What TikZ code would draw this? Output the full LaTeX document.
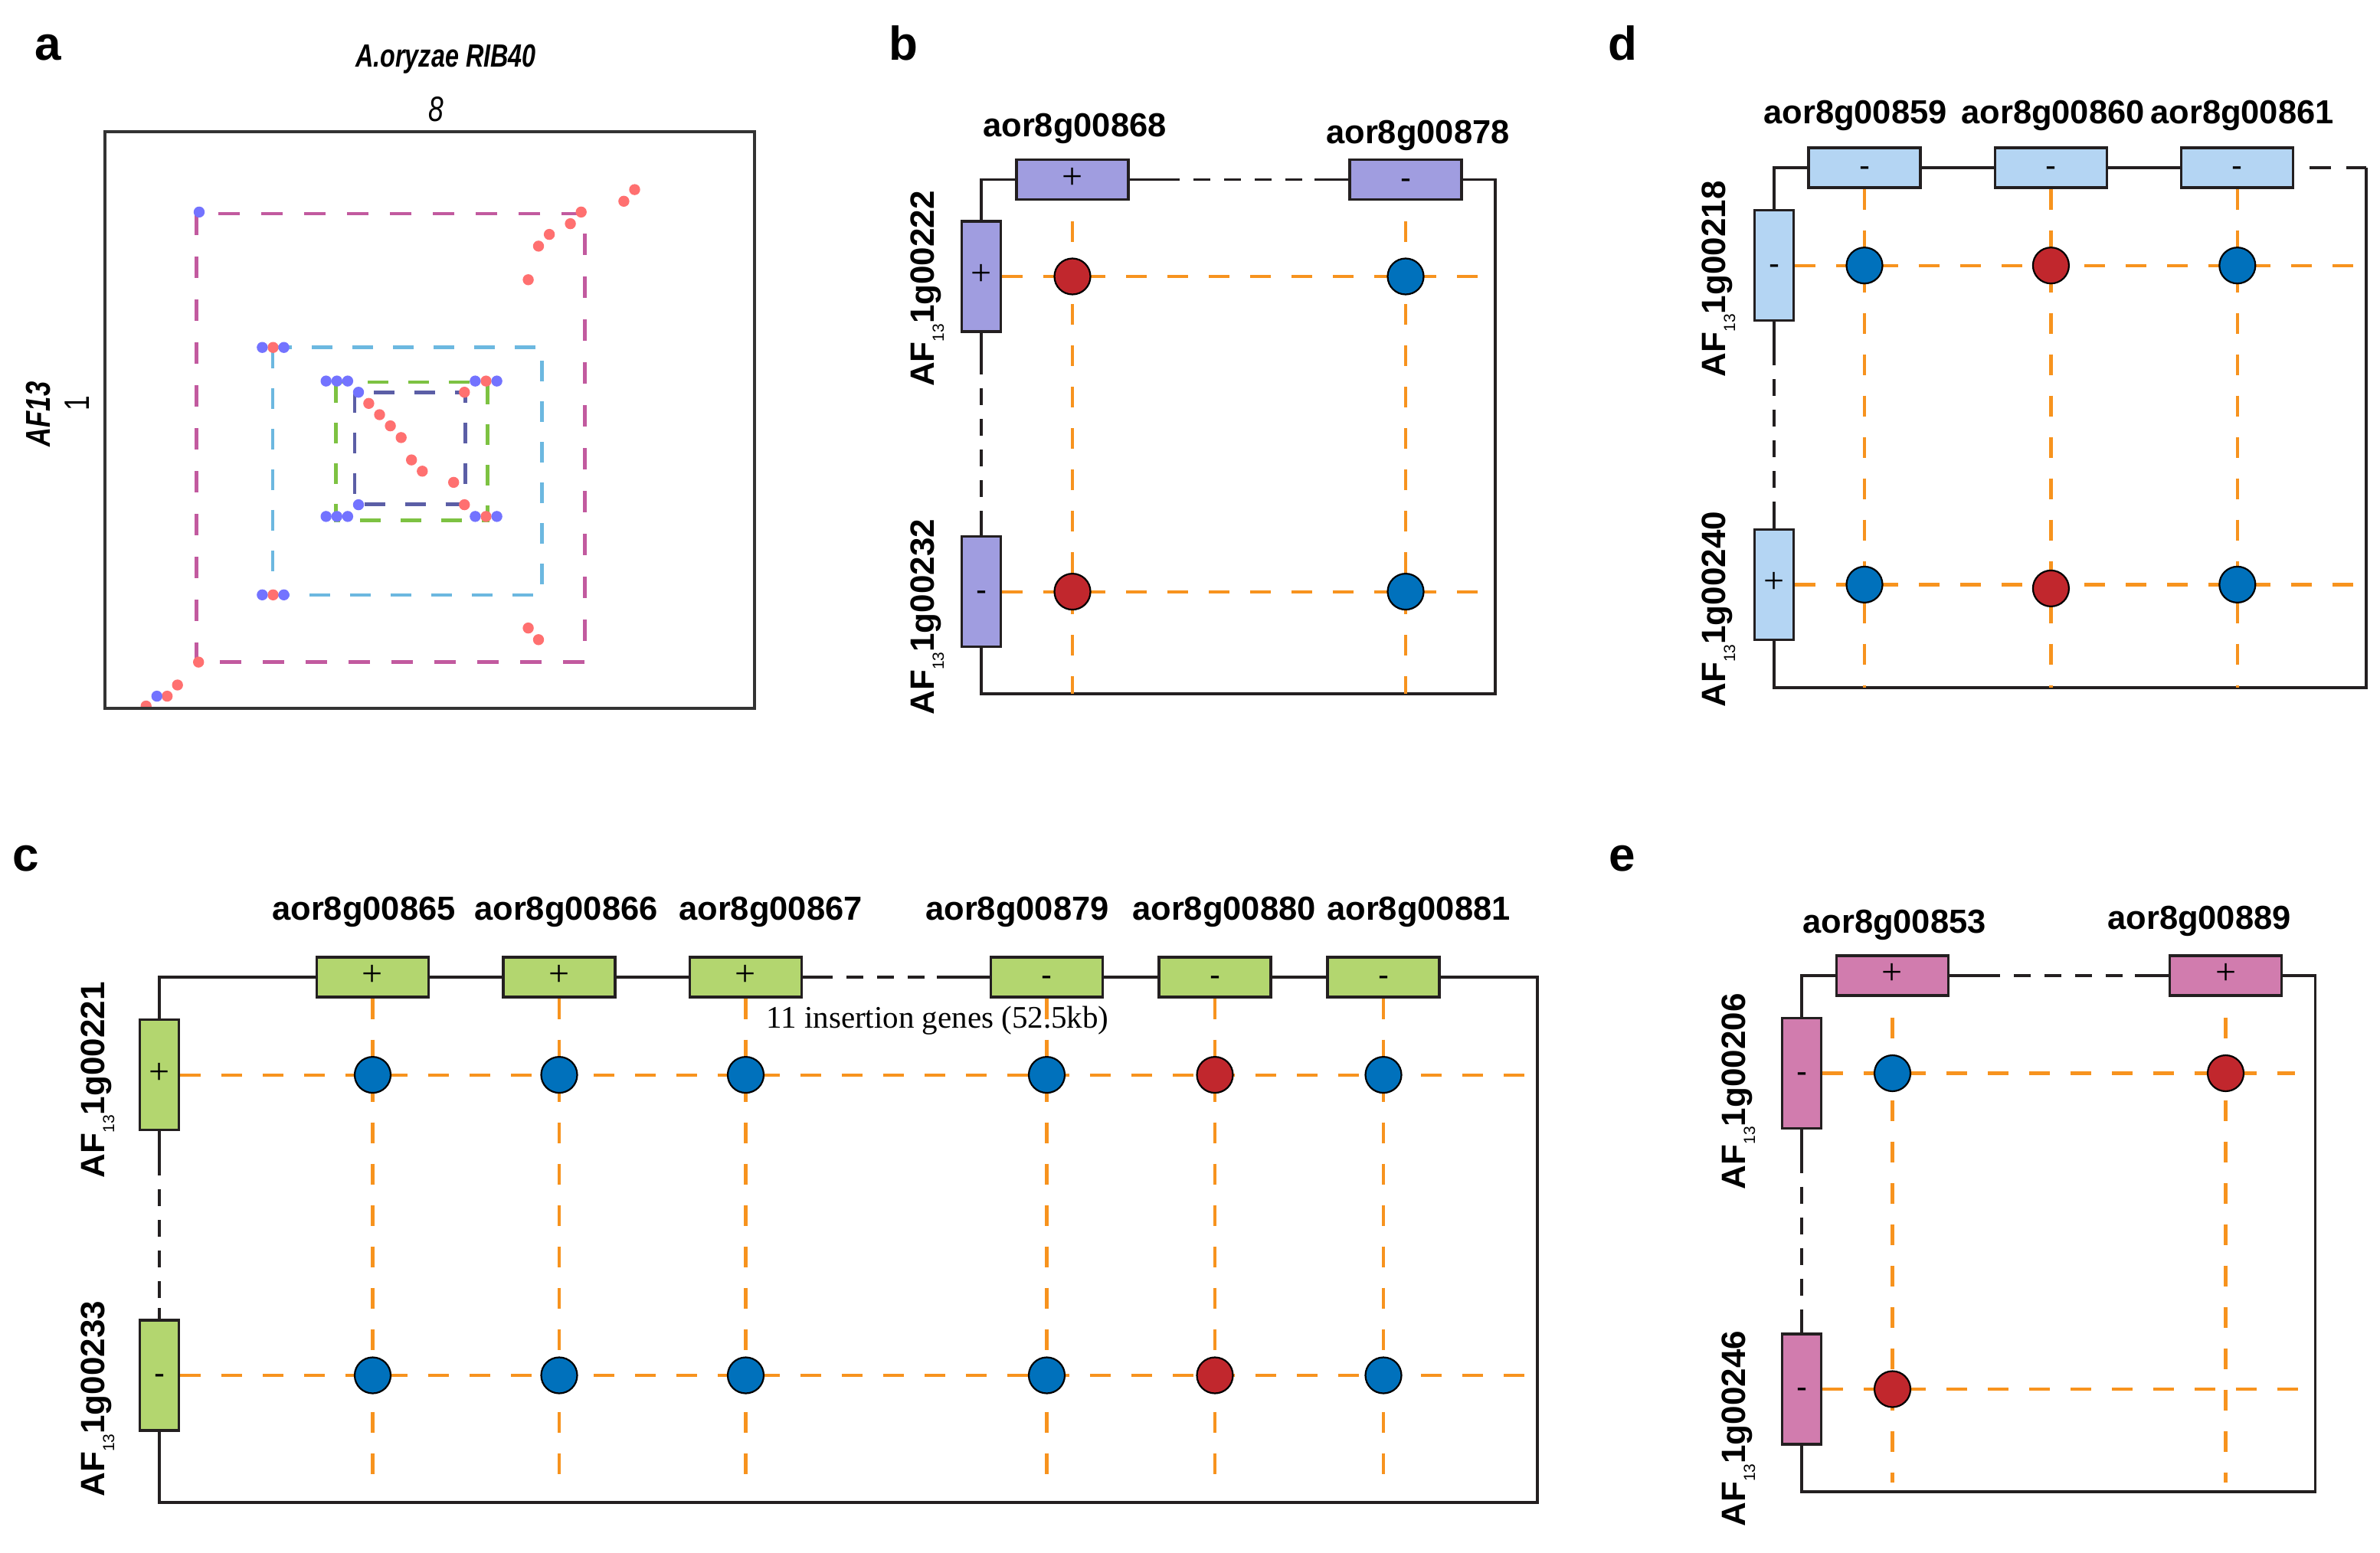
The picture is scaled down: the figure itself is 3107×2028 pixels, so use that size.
\documentclass[tikz,border=0pt]{standalone}
\usepackage{fontspec}
\setmainfont{Liberation Sans}
\newfontfamily\narrowf[FakeStretch=0.77]{Liberation Sans}
\newfontfamily\serifr{Liberation Serif}
\newcommand\fsz[1]{\fontsize{#1}{#1}\selectfont}
\newcommand\afsub[1]{\raisebox{-13pt}{\mdseries\fsz{21}#1}}
\newcommand\pl{{\serifr\fsz{48}+}}
\newcommand\mi{{\fsz{42}-}}
\definecolor{linec}{HTML}{231F20}
\definecolor{orangec}{HTML}{F7931E}
\definecolor{redc}{HTML}{C1272D}
\definecolor{bluec}{HTML}{0071BC}
\definecolor{purpc}{HTML}{A09DE0}
\definecolor{lbluec}{HTML}{B4D5F3}
\definecolor{greenc}{HTML}{B3D66F}
\definecolor{pinkc}{HTML}{D17CAE}
\definecolor{magc}{HTML}{C25A9F}
\definecolor{cyanc}{HTML}{6CB8E0}
\definecolor{lgreenc}{HTML}{7DC242}
\definecolor{navyc}{HTML}{5B5EA6}
\definecolor{dotred}{HTML}{FF7070}
\definecolor{dotblue}{HTML}{7373FF}
\definecolor{axisc}{HTML}{333333}
\begin{document}
\begin{tikzpicture}[x=1pt,y=-1pt,
  chrom/.style={draw=linec, line width=3.6pt},
  chromgap/.style={chrom, dash pattern=on 22pt off 18pt},
  oline/.style={draw=orangec, line width=4.2pt, dash pattern=on 27pt off 27pt},
  genebox/.style={draw=linec, line width=3.2pt, inner sep=0pt, text height=23pt, text depth=0pt},
  hgene/.style={genebox, minimum width=146pt, minimum height=52pt},
  vgene/.style={genebox, minimum width=51pt, minimum height=144pt},
  hit/.style={circle, draw=black, line width=2.2pt, inner sep=0pt, minimum size=47pt},
  redhit/.style={hit, fill=redc},
  bluehit/.style={hit, fill=bluec},
  glabel/.style={anchor=base, font=\bfseries\fsz{43.5}},
  chrlabel/.style={rotate=90, anchor=base west, font=\bfseries\fsz{44}},
  panel/.style={anchor=base, font=\bfseries\fsz{62}},
  block/.style={line width=4.6pt, dash pattern=on 27pt off 26pt},
]
\useasboundingbox (0,0) rectangle (3107,2028);

% ================= panel a =================
\node[panel] (pa) at (63,79) {a};
\node[anchor=base, font=\narrowf\bfseries\itshape\fsz{42}] (atitle) at (582,88) {A.oryzae RIB40};
\node[anchor=base, font=\narrowf\itshape\fsz{46}] (aeight) at (569,159) {8};
\node[rotate=90, anchor=base, font=\narrowf\bfseries\itshape\fsz{45}] (aaf) at (65,541) {AF13};
\node[rotate=90, anchor=base, font=\narrowf\fsz{46}] (aone) at (116,527) {1};
\draw[block, draw=magc, dash pattern=on 28pt off 28pt] (256.5,279) rectangle (763.4,864.5);
\draw[block, draw=cyanc] (356,453.7) rectangle (707.7,776.8);
\draw[block, draw=lgreenc] (438.5,498.8) rectangle (636.5,679.3);
\draw[block, draw=navyc] (463,512.2) rectangle (607.7,658.5);
\begin{scope}
\clip (137,172) rectangle (985,925);
\foreach \x/\y in {828.5/247.6, 814.4/262.8, 758.7/276.9, 744.6/292.1, 717.1/306.1,
  703/321.4, 689.6/365.3, 259.2/864.6, 231.7/894.5, 218.2/909.1, 190.7/922,
  689.6/820.1, 703/835.3, 356.5/453.7, 356.5/776.8, 634.5/497.6, 634.5/674.4,
  606.3/512.2, 606.3/659.1, 481.4/526.8, 495.5/541.5, 509.6/556.1, 523.7/571.4,
  537.2/600.6, 551.3/615.3, 592.2/629.9}
  \fill[dotred] (\x,\y) circle[radius=7.2];
\foreach \x/\y in {204.8/909.1, 260/276.9, 342.4/453.7, 370.6/453.7, 342.4/776.8,
  370.6/776.8, 425.7/497.6, 439.8/497.6, 453.9/497.6, 620.4/497.6, 648.6/497.6,
  425.7/674.4, 439.8/674.4, 453.9/674.4, 620.4/674.4, 648.6/674.4, 468/512.2, 468/659.1}
  \fill[dotblue] (\x,\y) circle[radius=7.2];
\end{scope}
\draw[line width=3.8pt, draw=axisc] (137,172) rectangle (985,925);

% ================= panel b =================
\node[panel] (pb) at (1179,79) {b};
\coordinate (bBR) at (1952,906);
\coordinate (bg1) at (1518,234.5);
\coordinate (bg2) at (1716,234.5);
\coordinate (bv1) at (1281,467);
\coordinate (bv2) at (1281,672.5);
\node[vgene, fill=purpc] (b222) at (1281,361) {};
\node[vgene, fill=purpc] (b232) at (1281,772.6) {};
\node[hgene, fill=purpc] (b868) at (1400,234.5) {};
\node[hgene, fill=purpc] (b878) at (1835,234.5) {};
\draw[chrom] (b222.north) |- (b868.west);
\draw[chrom] (b868.east) -- (bg1);
\draw[chromgap] (bg1) -- (bg2);
\draw[chrom] (bg2) -- (b878.west);
\draw[chrom] (b878.east) -| (bBR) -| (b232.south);
\draw[chrom] (b222.south) -- (bv1);
\draw[chromgap] (bv1) -- (bv2);
\draw[chrom] (bv2) -- (b232.north);
\draw[oline] (b222.east) -- (bBR |- b222.east);
\draw[oline] (b232.east) -- (bBR |- b232.east);
\draw[oline, dash phase=27pt] (b868.south) -- (b868.south |- bBR);
\draw[oline, dash phase=27pt] (b878.south) -- (b878.south |- bBR);
\node[vgene, fill=purpc] at (b222) {\pl};
\node[vgene, fill=purpc] at (b232) {\mi};
\node[hgene, fill=purpc] at (b868) {\pl};
\node[hgene, fill=purpc] at (b878) {\mi};
\node[redhit] (bh1) at (b868 |- b222) {};
\node[bluehit] (bh2) at (b878 |- b222) {};
\node[redhit] (bh3) at (b868 |- b232) {};
\node[bluehit] (bh4) at (b878 |- b232) {};
\node[glabel] (lb868) at (1403,179) {aor8g00868};
\node[glabel] (lb878) at (1851,188) {aor8g00878};
\node[chrlabel] (lb222) at (1219,508.5) {AF\afsub{13}1g00222};
\node[chrlabel] (lb232) at (1219,937) {AF\afsub{13}1g00232};

% ================= panel d =================
\node[panel] (pd) at (2118,79) {d};
\coordinate (dTR) at (3089,219);
\coordinate (dBR) at (3089,898);
\coordinate (dv1) at (2316,455);
\coordinate (dv2) at (2316,662);
\node[vgene, fill=lbluec] (d218) at (2316,346.7) {};
\node[vgene, fill=lbluec] (d240) at (2316,763.4) {};
\node[hgene, fill=lbluec] (d859) at (2434,219) {};
\node[hgene, fill=lbluec] (d860) at (2677.4,219) {};
\node[hgene, fill=lbluec] (d861) at (2920.8,219) {};
\draw[chrom] (d218.north) |- (d859.west);
\draw[chrom] (d859.east) -- (d860.west);
\draw[chrom] (d860.east) -- (d861.west);
\draw[chrom, dash pattern=on 28pt off 20pt, dash phase=28pt] (d861.east) -- (dTR);
\draw[chrom] (dTR) -- (dBR) -| (d240.south);
\draw[chrom] (d218.south) -- (dv1);
\draw[chromgap] (dv1) -- (dv2);
\draw[chrom] (dv2) -- (d240.north);
\draw[oline] (d218.east) -- (dBR |- d218.east);
\draw[oline] (d240.east) -- (dBR |- d240.east);
\draw[oline] (d859.south) -- (d859.south |- dBR);
\draw[oline] (d860.south) -- (d860.south |- dBR);
\draw[oline] (d861.south) -- (d861.south |- dBR);
\node[vgene, fill=lbluec] at (d218) {\mi};
\node[vgene, fill=lbluec] at (d240) {\pl};
\node[hgene, fill=lbluec] at (d859) {\mi};
\node[hgene, fill=lbluec] at (d860) {\mi};
\node[hgene, fill=lbluec] at (d861) {\mi};
\node[bluehit] (dh1) at (d859 |- d218) {};
\node[redhit] (dh2) at (d860 |- d218) {};
\node[bluehit] (dh3) at (d861 |- d218) {};
\node[bluehit] (dh4) at (d859 |- d240) {};
\node[redhit] (dh5) at ([yshift=-5pt]d860 |- d240) {};
\node[bluehit] (dh6) at (d861 |- d240) {};
\node[glabel] (ld859) at (2422,162) {aor8g00859};
\node[glabel] (ld860) at (2680,162) {aor8g00860};
\node[glabel] (ld861) at (2927,162) {aor8g00861};
\node[chrlabel] (ld218) at (2252,495.6) {AF\afsub{13}1g00218};
\node[chrlabel] (ld240) at (2252,927) {AF\afsub{13}1g00240};

% ================= panel c =================
\node[panel] (pc) at (34,1137) {c};
\coordinate (cBR) at (2007,1962);
\coordinate (cR1) at (1997,1403.6);
\coordinate (cg1) at (1065,1276);
\coordinate (cg2) at (1223,1276);
\coordinate (cv1) at (208,1513);
\coordinate (cv2) at (208,1708);
\node[vgene, fill=greenc] (c221) at (208,1403.6) {};
\node[vgene, fill=greenc] (c233) at (208,1796) {};
\node[hgene, fill=greenc] (c865) at (486.5,1276) {};
\node[hgene, fill=greenc] (c866) at (730,1276) {};
\node[hgene, fill=greenc] (c867) at (973.5,1276) {};
\node[hgene, fill=greenc] (c879) at (1366.5,1276) {};
\node[hgene, fill=greenc] (c880) at (1586,1276) {};
\node[hgene, fill=greenc] (c881) at (1806,1276) {};
\draw[chrom] (c221.north) |- (c865.west);
\draw[chrom] (c865.east) -- (c866.west);
\draw[chrom] (c866.east) -- (c867.west);
\draw[chrom] (c867.east) -- (cg1);
\draw[chromgap] (cg1) -- (cg2);
\draw[chrom] (cg2) -- (c879.west);
\draw[chrom] (c879.east) -- (c880.west);
\draw[chrom] (c880.east) -- (c881.west);
\draw[chrom] (c881.east) -| (cBR) -| (c233.south);
\draw[chrom] (c221.south) -- (cv1);
\draw[chromgap] (cv1) -- (cv2);
\draw[chrom] (cv2) -- (c233.north);
\draw[oline] (c221.east) -- (cR1);
\draw[oline] (c233.east) -- (cBR |- c233.east);
\foreach \g in {c865,c866,c867,c879,c880,c881}
  \draw[oline] (\g.south) -- ([yshift=12pt]\g.south |- cBR);
\node[vgene, fill=greenc] at (c221) {\pl};
\node[vgene, fill=greenc] at (c233) {\mi};
\node[hgene, fill=greenc] at (c865) {\pl};
\node[hgene, fill=greenc] at (c866) {\pl};
\node[hgene, fill=greenc] at (c867) {\pl};
\node[hgene, fill=greenc] at (c879) {\mi};
\node[hgene, fill=greenc] at (c880) {\mi};
\node[hgene, fill=greenc] at (c881) {\mi};
\node[bluehit] (ch1) at (c865 |- c221) {};
\node[bluehit] (ch2) at (c866 |- c221) {};
\node[bluehit] (ch3) at (c867 |- c221) {};
\node[bluehit] (ch4) at (c879 |- c221) {};
\node[redhit] (ch5) at (c880 |- c221) {};
\node[bluehit] (ch6) at (c881 |- c221) {};
\node[bluehit] (ch7) at (c865 |- c233) {};
\node[bluehit] (ch8) at (c866 |- c233) {};
\node[bluehit] (ch9) at (c867 |- c233) {};
\node[bluehit] (ch10) at (c879 |- c233) {};
\node[redhit] (ch11) at (c880 |- c233) {};
\node[bluehit] (ch12) at (c881 |- c233) {};
\node[glabel] (lc865) at (475,1201) {aor8g00865};
\node[glabel] (lc866) at (739,1201) {aor8g00866};
\node[glabel] (lc867) at (1006,1201) {aor8g00867};
\node[glabel] (lc879) at (1328,1201) {aor8g00879};
\node[glabel] (lc880) at (1598,1201) {aor8g00880};
\node[glabel] (lc881) at (1852,1201) {aor8g00881};
\node[anchor=base west, font=\serifr\fsz{41}] (cins) at (997,1342.5) {11 insertion genes (52.5kb)};
\node[chrlabel] (lc221) at (136,1541.6) {AF\afsub{13}1g00221};
\node[chrlabel] (lc233) at (136,1958) {AF\afsub{13}1g00233};

% ================= panel e =================
\node[panel] (pe) at (2118,1137) {e};
\coordinate (eBR) at (3022.5,1948);
\coordinate (eR1) at (2995.5,1401.5);
\coordinate (eg1) at (2589,1274);
\coordinate (eg2) at (2787,1274);
\coordinate (ev1) at (2352,1509.5);
\coordinate (ev2) at (2352,1714);
\node[vgene, fill=pinkc] (e206) at (2352,1401.5) {};
\node[vgene, fill=pinkc] (e246) at (2352,1814) {};
\node[hgene, fill=pinkc] (e853) at (2470.5,1274) {};
\node[hgene, fill=pinkc] (e889) at (2905.5,1274) {};
\draw[chrom] (e206.north) |- (e853.west);
\draw[chrom] (e853.east) -- (eg1);
\draw[chromgap] (eg1) -- (eg2);
\draw[chrom] (eg2) -- (e889.west);
\draw[chrom] (e889.east) -| (eBR) -| (e246.south);
\draw[chrom] (e206.south) -- (ev1);
\draw[chromgap] (ev1) -- (ev2);
\draw[chrom] (ev2) -- (e246.north);
\draw[oline] (e206.east) -- (eR1);
\draw[oline] (e246.east) -- (eBR |- e246.east);
\draw[oline, dash phase=27pt] (e853.south) -- ([yshift=12pt]e853.south |- eBR);
\draw[oline, dash phase=27pt] (e889.south) -- ([yshift=12pt]e889.south |- eBR);
\node[vgene, fill=pinkc] at (e206) {\mi};
\node[vgene, fill=pinkc] at (e246) {\mi};
\node[hgene, fill=pinkc] at (e853) {\pl};
\node[hgene, fill=pinkc] at (e889) {\pl};
\node[bluehit] (eh1) at (e853 |- e206) {};
\node[redhit] (eh2) at (e889 |- e206) {};
\node[redhit] (eh3) at (e853 |- e246) {};
\node[glabel] (le853) at (2473,1218) {aor8g00853};
\node[glabel] (le889) at (2871,1213) {aor8g00889};
\node[chrlabel] (le206) at (2278,1556.6) {AF\afsub{13}1g00206};
\node[chrlabel] (le246) at (2278,1997) {AF\afsub{13}1g00246};
\end{tikzpicture}
\end{document}
